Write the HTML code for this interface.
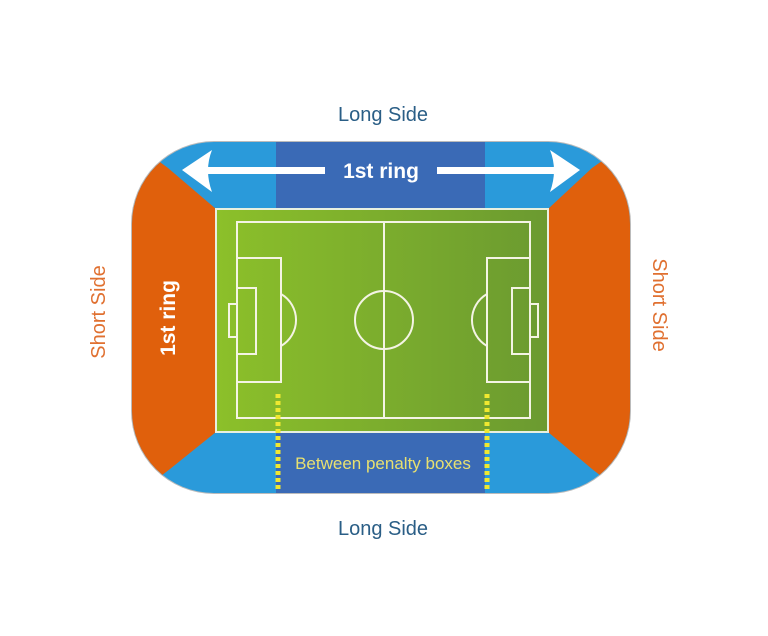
<!DOCTYPE html>
<html><head><style>
html,body{margin:0;padding:0;background:#fff;}
svg{display:block;}
text{font-family:"Liberation Sans",sans-serif;}
</style></head><body>
<svg width="768" height="636" viewBox="0 0 768 636" xmlns="http://www.w3.org/2000/svg">
<defs>
<clipPath id="c"><rect x="132" y="142" width="498" height="351" rx="82" ry="82"/></clipPath>
<linearGradient id="g" x1="0" x2="1" y1="0" y2="0"><stop offset="0" stop-color="#8cc02a"/><stop offset="1" stop-color="#6b9a30"/></linearGradient>
</defs>
<rect x="131" y="141" width="500" height="353" rx="83" ry="83" fill="#bbb"/>
<g clip-path="url(#c)">
<rect x="130" y="140" width="502" height="356" fill="#2a9ada"/>
<rect x="276" y="140" width="209" height="68" fill="#3a6ab6"/>
<rect x="276" y="432" width="209" height="64" fill="#3a6ab6"/>
<polygon points="130,140 168,168 216,209 216,432 170,469 130,500" fill="#e0600c"/>
<polygon points="632,140 592,168 548,209 548,432 592,469 632,500" fill="#e0600c"/>
</g>
<rect x="216" y="209" width="332" height="223" fill="url(#g)" stroke="#e8f0e0" stroke-width="2"/>
<g fill="none" stroke="#f4f4e4" stroke-width="2">
<rect x="237" y="222" width="293" height="196"/>
<line x1="384" y1="222" x2="384" y2="418"/>
<circle cx="384" cy="320" r="29"/>
<rect x="237" y="258" width="44" height="124"/>
<rect x="237" y="288" width="19" height="66"/>
<rect x="229" y="304" width="8" height="33"/>
<path d="M281,294 A30,30 0 0 1 281,346"/>
<rect x="487" y="258" width="43" height="124"/>
<rect x="512" y="288" width="18" height="66"/>
<rect x="530" y="304" width="8" height="33"/>
<path d="M487,294 A30,30 0 0 0 487,346"/>
</g>
<g stroke="#f0e830" stroke-width="5" stroke-dasharray="4,3">
<line x1="278" y1="394" x2="278" y2="491"/>
<line x1="487" y1="394" x2="487" y2="491"/>
</g>
<text x="383" y="469" font-size="17" fill="#e8e070" text-anchor="middle">Between penalty boxes</text>
<g fill="#fff">
<rect x="205" y="167" width="120" height="7"/>
<rect x="437" y="167" width="125" height="7"/>
<path d="M182,170 L212,150 Q204,170 212,192 Z"/>
<path d="M580,170 L550,150 Q558,170 550,192 Z"/>
</g>
<text x="381" y="178" font-size="21" font-weight="bold" fill="#fff" text-anchor="middle">1st ring</text>
<text transform="translate(175,318) rotate(-90)" font-size="21" font-weight="bold" fill="#fff" text-anchor="middle">1st ring</text>
<text x="383" y="121" font-size="20" fill="#2a5e86" text-anchor="middle">Long Side</text>
<text x="383" y="535" font-size="20" fill="#2a5e86" text-anchor="middle">Long Side</text>
<text transform="translate(105,312) rotate(-90)" font-size="20" fill="#e07030" text-anchor="middle">Short Side</text>
<text transform="translate(653,305) rotate(90)" font-size="20" fill="#e07030" text-anchor="middle">Short Side</text>
</svg>
</body></html>
